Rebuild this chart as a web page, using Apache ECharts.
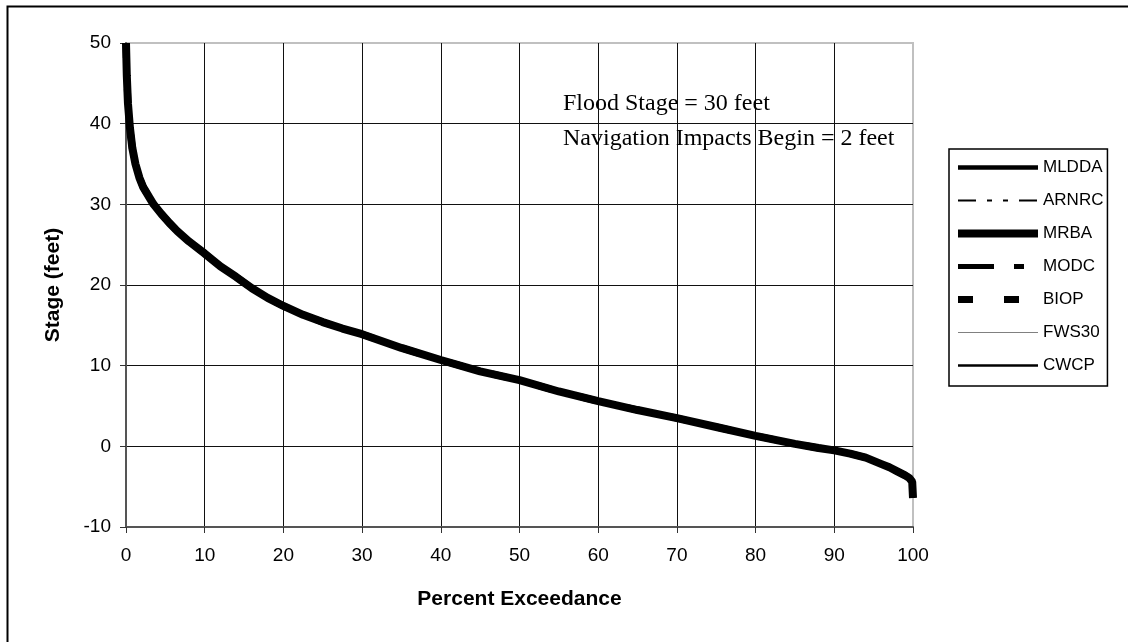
<!DOCTYPE html>
<html>
<head>
<meta charset="utf-8">
<script src="https://cdn.jsdelivr.net/npm/echarts@6/dist/echarts.min.js"></script>
<style>
  html, body { margin: 0; padding: 0; background: #fff; }
  #chart { width: 1128px; height: 642px; }
</style>
</head>
<body>
<div id="chart"></div>
<script>
// Stage-duration curve: percent of time a stage is equalled or exceeded
const percentExceedance = [0, 0.1, 0.25, 0.5, 0.8, 1.2, 1.7, 2.2, 3, 3.5, 4.5, 5.5, 6.5, 8, 10, 12, 14, 16, 18, 20,
  22.5, 25, 27.5, 30, 35, 40, 45, 50, 55, 60, 65, 70, 75, 80, 85, 88, 90, 92, 94, 95, 96, 97, 98, 99, 99.5, 99.9, 100];
const stageFeet = [50, 46, 42.5, 39.5, 37, 35, 33.3, 32.1, 30.8, 30, 28.8, 27.7, 26.7, 25.4, 23.9, 22.3, 21, 19.6, 18.4, 17.4,
  16.3, 15.4, 14.6, 13.9, 12.2, 10.7, 9.3, 8.2, 6.8, 5.6, 4.5, 3.5, 2.4, 1.3, 0.3, -0.2, -0.5, -0.9, -1.4, -1.8, -2.2, -2.6, -3.1, -3.6, -3.9, -4.4, -6.4];

// Alternatives plotted (their curves coincide at this scale)
const alternatives = ['MLDDA', 'ARNRC', 'MRBA', 'MODC', 'BIOP', 'FWS30', 'CWCP'];
const xTicks = { min: 0, max: 100, step: 10 };
const yTicks = { min: -10, max: 50, step: 10 };
const notes = ['Flood Stage = 30 feet', 'Navigation Impacts Begin = 2 feet'];

const lineStyles = {
  MLDDA: { color: '#000', width: 4.5, type: 'solid' },
  ARNRC: { color: '#000', width: 2, type: [18, 11, 5, 11, 5, 11] },
  MRBA:  { color: '#000', width: 8, type: 'solid' },
  MODC:  { color: '#000', width: 5, type: [36, 20, 10, 20] },
  BIOP:  { color: '#000', width: 7, type: [15, 31] },
  FWS30: { color: '#808080', width: 1, type: 'solid' },
  CWCP:  { color: '#000', width: 2.5, type: 'solid' }
};

const sans = 'Liberation Sans, Arial, sans-serif';
const serif = 'Liberation Serif, Times New Roman, serif';

const curve = percentExceedance.map((p, i) => [p, stageFeet[i]]);

const chart = echarts.init(document.getElementById('chart'), null, { renderer: 'canvas' });
chart.setOption({
  animation: false,
  backgroundColor: '#fff',
  grid: {
    left: 126, top: 43, right: 215, bottom: 115,
    show: true, borderColor: '#c0c0c0', borderWidth: 2, backgroundColor: 'transparent'
  },
  xAxis: {
    type: 'value', min: xTicks.min, max: xTicks.max, interval: xTicks.step,
    name: 'Percent Exceedance', nameLocation: 'middle', nameGap: 62,
    nameTextStyle: { fontFamily: sans, fontWeight: 'bold', fontSize: 21, color: '#000' },
    axisLine: { show: true, onZero: false, lineStyle: { color: '#555', width: 2 } },
    axisTick: { show: true, length: 6, lineStyle: { color: '#333', width: 1 } },
    axisLabel: { fontFamily: sans, fontSize: 19, color: '#000', margin: 19 },
    splitLine: { show: true, showMinLine: false, showMaxLine: false, lineStyle: { color: '#111', width: 1 } }
  },
  yAxis: {
    type: 'value', min: yTicks.min, max: yTicks.max, interval: yTicks.step,
    name: 'Stage (feet)', nameLocation: 'middle', nameGap: 62,
    nameTextStyle: { fontFamily: sans, fontWeight: 'bold', fontSize: 21, color: '#000' },
    axisLine: { show: true, onZero: false, lineStyle: { color: '#555', width: 2 } },
    axisTick: { show: true, length: 6, lineStyle: { color: '#333', width: 1 } },
    axisLabel: { fontFamily: sans, fontSize: 19, color: '#000', margin: 15 },
    splitLine: { show: true, showMinLine: false, showMaxLine: false, lineStyle: { color: '#111', width: 1 } }
  },
  legend: {
    orient: 'vertical', left: 949, top: 149,
    padding: [10, 4, 12, 5],
    borderColor: '#000', borderWidth: 1.5, backgroundColor: '#fff',
    itemWidth: 80, itemHeight: 16, itemGap: 16,
    selectedMode: false,
    textStyle: { fontFamily: sans, fontSize: 17, color: '#000', lineHeight: 16 },
    lineStyle: { width: 'inherit', type: 'inherit' },
    itemStyle: { color: 'transparent', borderColor: 'transparent', borderWidth: 0, opacity: 0 },
    data: alternatives
  },
  graphic: [
    {
      type: 'rect', left: 5, top: 4, silent: true, z: -1,
      shape: { x: 0, y: 0, width: 1140, height: 650 },
      style: { fill: 'none', stroke: '#000', lineWidth: 2 }
    },
    {
      type: 'text', left: 563, top: 86, silent: true, z: 10,
      style: {
        text: notes.join('\n'), fontFamily: serif, fontSize: 24, lineHeight: 35, fill: '#000'
      }
    }
  ],
  series: alternatives.map(name => ({
    name,
    type: 'line',
    data: curve,
    symbol: 'none',
    smooth: false,
    clip: true,
    lineStyle: lineStyles[name],
    itemStyle: { color: lineStyles[name].color }
  }))
});
</script>
</body>
</html>
